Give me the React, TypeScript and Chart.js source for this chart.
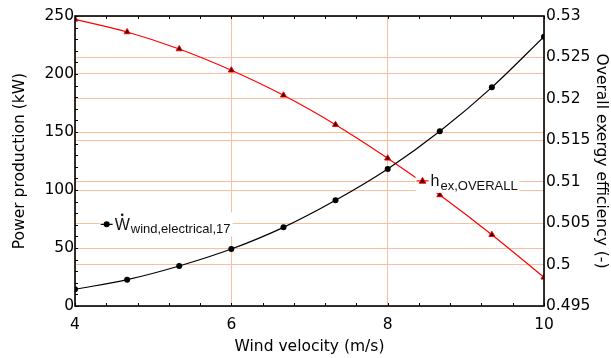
import React, { useEffect, useRef } from "react";
import { Chart, registerables } from "chart.js";

Chart.register(...registerables);

// ---- data ----
const windVelocity = [4, 4.667, 5.333, 6, 6.667, 7.333, 8, 8.667, 9.333, 10];
const powerProduction = [14.4, 22.7, 34.5, 49.1, 67.8, 91.1, 118.1, 150.6, 188.5, 232.2];
const exergyEfficiency = [0.5296, 0.52807, 0.52602, 0.52345, 0.52043, 0.51688, 0.51283, 0.5084, 0.50361, 0.49846];

const xTicks = [4, 6, 8, 10];
const leftTicks = [0, 50, 100, 150, 200, 250];
const rightTicks = [0.495, 0.5, 0.505, 0.51, 0.515, 0.52, 0.525, 0.53];
const xMinorStep = 0.4;
const leftMinorStep = 10;

const seriesLabels = [
  { main: "W", dot: true, sub: "wind,electrical,17", x: 4.405, y: 70.4, axis: "y", dataset: 0 },
  { main: "h", dot: false, sub: "ex,OVERALL", x: 8.446, y: 0.5101, axis: "y1", dataset: 1 },
];

const FONT = "'Liberation Sans', Arial, sans-serif";
const AXFONT = "'DejaVu Sans', Verdana, sans-serif";
const GRID = "#f9c0a0";

function drawMarker(ctx: CanvasRenderingContext2D, kind: string, x: number, y: number, fill: string, stroke: string) {
  ctx.save();
  ctx.fillStyle = fill;
  ctx.strokeStyle = stroke;
  ctx.lineWidth = 1;
  ctx.beginPath();
  if (kind === "circle") {
    ctx.arc(x, y, 3, 0, Math.PI * 2);
    ctx.fill();
  } else {
    const r = 3.5;
    ctx.moveTo(x, y - r);
    ctx.lineTo(x + r * 0.95, y + r * 0.65);
    ctx.lineTo(x - r * 0.95, y + r * 0.65);
    ctx.closePath();
    ctx.fill();
    ctx.stroke();
  }
  ctx.restore();
}

const framePlugin = {
  id: "frameTicks",
  afterDatasetsDraw(chart: any) {
    const { ctx, chartArea } = chart;
    const { left, right, top, bottom } = chartArea;
    const xs = chart.scales.x;
    const ys = chart.scales.y;
    ctx.save();
    ctx.strokeStyle = "#000";
    ctx.lineWidth = 1;
    ctx.beginPath();
    for (let v = xTicks[0]; v <= xTicks[xTicks.length - 1] + 1e-9; v += xMinorStep) {
      const px = Math.round(xs.getPixelForValue(v)) + 0.5;
      ctx.moveTo(px, bottom);
      ctx.lineTo(px, bottom - 3);
      ctx.moveTo(px, top);
      ctx.lineTo(px, top + 3);
    }
    for (let v = leftTicks[0]; v <= leftTicks[leftTicks.length - 1] + 1e-9; v += leftMinorStep) {
      const py = Math.round(ys.getPixelForValue(v)) + 0.5;
      ctx.moveTo(left, py);
      ctx.lineTo(left + 3, py);
    }
    ctx.stroke();
    ctx.lineWidth = 1.6;
    ctx.strokeRect(left, top, right - left, bottom - top);
    ctx.restore();
  },
};

const labelPlugin = {
  id: "seriesLabels",
  afterDatasetsDraw(chart: any) {
    const { ctx } = chart;
    seriesLabels.forEach((lab) => {
      const ds = chart.data.datasets[lab.dataset];
      const mx = chart.scales.x.getPixelForValue(lab.x);
      const my = chart.scales[lab.axis].getPixelForValue(lab.y);
      ctx.save();
      ctx.font = `16px ${FONT}`;
      const wMain = ctx.measureText(lab.main).width;
      ctx.font = `13px ${FONT}`;
      const wSub = ctx.measureText(lab.sub).width;
      const tx = mx + 8;
      const boxL = mx - 7;
      const boxR = tx + wMain + 1 + wSub + 2;
      ctx.fillStyle = "#fff";
      ctx.fillRect(boxL, my - 12, boxR - boxL, 24);
      ctx.strokeStyle = ds.borderColor;
      ctx.lineWidth = 1.2;
      ctx.beginPath();
      ctx.moveTo(mx - 6, my);
      ctx.lineTo(mx + 6, my);
      ctx.stroke();
      drawMarker(ctx, ds.pointStyle, mx, my, ds.pointBackgroundColor, ds.pointBorderColor);
      ctx.fillStyle = "#111";
      ctx.textBaseline = "alphabetic";
      ctx.textAlign = "left";
      ctx.font = `16px ${FONT}`;
      ctx.fillText(lab.main, tx, my + 5.5);
      if (lab.dot) {
        ctx.beginPath();
        ctx.arc(tx + wMain / 2, my - 9.5, 1.3, 0, Math.PI * 2);
        ctx.fill();
      }
      ctx.font = `13px ${FONT}`;
      ctx.fillText(lab.sub, tx + wMain + 1, my + 9);
      ctx.restore();
    });
  },
};

export default function App() {
  const ref = useRef<HTMLCanvasElement | null>(null);
  useEffect(() => {
    document.body.style.margin = "0";
    const canvas = ref.current;
    if (!canvas) return;
    const tickFont = { family: AXFONT, size: 15.5 };
    const titleFont = { family: AXFONT, size: 15.5 };
    const chart = new Chart(canvas, {
      type: "line",
      data: {
        datasets: [
          {
            label: "Wwind,electrical,17",
            data: windVelocity.map((x, i) => ({ x, y: powerProduction[i] })),
            yAxisID: "y",
            borderColor: "#000",
            borderWidth: 1.2,
            pointStyle: "circle",
            pointRadius: 3,
            pointBackgroundColor: "#000",
            pointBorderColor: "#000",
            pointBorderWidth: 0,
            cubicInterpolationMode: "monotone",
            fill: false,
          },
          {
            label: "hex,OVERALL",
            data: windVelocity.map((x, i) => ({ x, y: exergyEfficiency[i] })),
            yAxisID: "y1",
            borderColor: "#ff0000",
            borderWidth: 1.2,
            pointStyle: "triangle",
            pointRadius: 3.5,
            pointBackgroundColor: "#300000",
            pointBorderColor: "#ff0000",
            pointBorderWidth: 1,
            cubicInterpolationMode: "monotone",
            fill: false,
          },
        ],
      },
      options: {
        responsive: false,
        animation: false,
        layout: { padding: { top: 16, left: 0, right: 0, bottom: 0 } },
        plugins: { legend: { display: false }, tooltip: { enabled: false } },
        scales: {
          x: {
            type: "linear",
            position: "bottom",
            min: 4,
            max: 10,
            afterBuildTicks: (s: any) => { s.ticks = xTicks.map((v) => ({ value: v })); },
            afterFit: (s: any) => { s.height = 52; },
            ticks: { font: tickFont, color: "#000", padding: 9.5 },
            grid: { color: GRID, drawTicks: false, lineWidth: 1 },
            border: { display: false },
            title: { display: true, text: "Wind velocity (m/s)", font: titleFont, color: "#000", padding: { top: 0, bottom: 1.5 } },
          },
          y: {
            type: "linear",
            position: "left",
            min: 0,
            max: 250,
            afterBuildTicks: (s: any) => { s.ticks = leftTicks.map((v) => ({ value: v })); },
            afterFit: (s: any) => { s.width = 75; },
            ticks: { font: tickFont, color: "#000", padding: 1 },
            grid: { color: GRID, drawTicks: false, lineWidth: 1 },
            border: { display: false },
            title: { display: true, text: "Power production (kW)", font: titleFont, color: "#000", padding: { top: 10.5, bottom: 0 } },
          },
          y1: {
            type: "linear",
            position: "right",
            min: 0.495,
            max: 0.53,
            afterBuildTicks: (s: any) => { s.ticks = rightTicks.map((v) => ({ value: v })); },
            afterFit: (s: any) => { s.width = 67; },
            ticks: {
              font: tickFont,
              color: "#000",
              padding: 2,
              callback: (v: any) => String(Number(Number(v).toFixed(3))),
            },
            grid: { color: GRID, drawTicks: false, lineWidth: 1 },
            border: { display: false },
            title: { display: true, text: "Overall exergy efficiency (-)", font: titleFont, color: "#000", padding: { top: 0.7, bottom: 0 } },
          },
        },
      },
      plugins: [labelPlugin, framePlugin],
    } as any);
    return () => chart.destroy();
  }, []);
  return <canvas ref={ref} width={611} height={358} style={{ display: "block", width: 611, height: 358 }} />;
}
